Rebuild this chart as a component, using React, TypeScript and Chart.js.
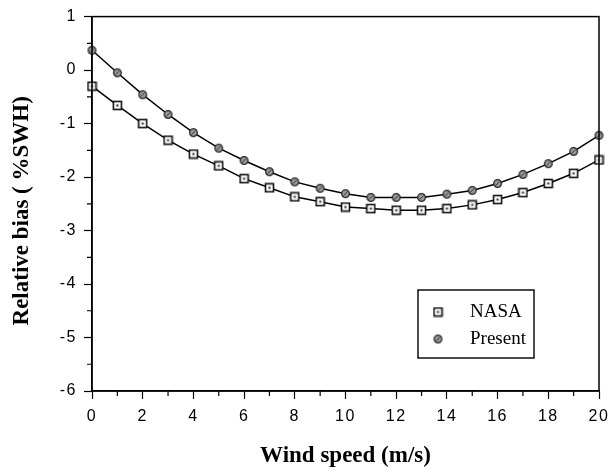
import React, { useEffect, useRef } from "react";
import { Chart, registerables } from "chart.js";

Chart.register(...registerables);

const windSpeed = [0, 1, 2, 3, 4, 5, 6, 7, 8, 9, 10, 11, 12, 13, 14, 15, 16, 17, 18, 19, 20];
const nasaBias = [-0.3, -0.66, -1.0, -1.31, -1.57, -1.79, -2.03, -2.2, -2.37, -2.46, -2.56, -2.59, -2.62, -2.62, -2.59, -2.52, -2.42, -2.29, -2.12, -1.93, -1.68];
const presentBias = [0.37, -0.05, -0.46, -0.83, -1.17, -1.46, -1.69, -1.9, -2.09, -2.21, -2.31, -2.38, -2.38, -2.38, -2.32, -2.25, -2.12, -1.95, -1.75, -1.52, -1.22];
const xTicks = [0, 2, 4, 6, 8, 10, 12, 14, 16, 18, 20];
const yTicks = [-6, -5, -4, -3, -2, -1, 0, 1];
const seriesNames = ["NASA", "Present"];
const xTitle = "Wind speed (m/s)";
const yTitle = "Relative bias ( %SWH)";

function makeSquare(): HTMLCanvasElement {
  const c = document.createElement("canvas");
  c.width = 11;
  c.height = 11;
  const g = c.getContext("2d")!;
  g.fillStyle = "#fff";
  g.fillRect(1, 1, 9, 9);
  g.strokeStyle = "#111";
  g.lineWidth = 1.6;
  g.strokeRect(1.5, 1.5, 8, 8);
  g.fillStyle = "#222";
  g.fillRect(4.5, 4.5, 2, 2);
  return c;
}

function makeDiamond(): HTMLCanvasElement {
  const c = document.createElement("canvas");
  c.width = 11;
  c.height = 11;
  const g = c.getContext("2d")!;
  g.beginPath();
  g.arc(5.5, 5.5, 3.8, 0, Math.PI * 2);
  g.fillStyle = "#9a9a9a";
  g.fill();
  g.strokeStyle = "#222";
  g.lineWidth = 1.3;
  g.stroke();
  g.beginPath();
  g.moveTo(3.4, 7.6);
  g.lineTo(7.6, 3.4);
  g.strokeStyle = "#333";
  g.lineWidth = 1;
  g.stroke();
  return c;
}

export default function App() {
  const ref = useRef<HTMLCanvasElement>(null);

  useEffect(() => {
    document.body.style.margin = "0";
    const sq = makeSquare();
    const dm = makeDiamond();

    const framePlugin = {
      id: "frame",
      beforeDraw(chart: any) {
        (chart.ctx as any).letterSpacing = "1.5px";
      },
      afterDraw(chart: any) {
        const { ctx, chartArea } = chart;
        const xs = chart.scales.x;
        const ys = chart.scales.y;
        ctx.save();
        (ctx as any).letterSpacing = "0px";
        ctx.strokeStyle = "#000";
        ctx.lineWidth = 1.5;
        ctx.strokeRect(chartArea.left, chartArea.top, chartArea.right - chartArea.left, chartArea.bottom - chartArea.top);
        // minor ticks
        ctx.lineWidth = 1.2;
        ctx.beginPath();
        for (let v = 1; v < 20; v += 2) {
          const px = xs.getPixelForValue(v);
          ctx.moveTo(px, chartArea.bottom);
          ctx.lineTo(px, chartArea.bottom + 5);
        }
        for (let v = -5.5; v < 1; v += 1) {
          const py = ys.getPixelForValue(v);
          ctx.moveTo(chartArea.left, py);
          ctx.lineTo(chartArea.left - 5, py);
        }
        ctx.stroke();

        // axis titles
        ctx.fillStyle = "#000";
        ctx.font = "bold 23px 'Liberation Serif'";
        ctx.textAlign = "center";
        ctx.textBaseline = "alphabetic";
        ctx.fillText(xTitle, (chartArea.left + chartArea.right) / 2, 462);
        ctx.save();
        ctx.translate(28, (chartArea.top + chartArea.bottom) / 2 + 7);
        ctx.rotate(-Math.PI / 2);
        ctx.fillText(yTitle, 0, 0);
        ctx.restore();

        // legend
        const bx = chartArea.right - 181;
        const by = chartArea.bottom - 101;
        const bw = 116;
        const bh = 68;
        ctx.fillStyle = "#fff";
        ctx.fillRect(bx, by, bw, bh);
        ctx.lineWidth = 1.5;
        ctx.strokeStyle = "#111";
        ctx.strokeRect(bx, by, bw, bh);
        const imgs = [sq, dm];
        ctx.font = "19px 'Liberation Serif'";
        ctx.fillStyle = "#000";
        ctx.textBaseline = "middle";
        ctx.textAlign = "left";
        seriesNames.forEach((name, i) => {
          const cy = by + 22 + i * 27;
          ctx.drawImage(imgs[i], bx + 20 - 5.5, cy - 5.5);
          ctx.fillText(name, bx + 52, cy);
        });
        ctx.restore();
      },
    };

    const chart = new Chart(ref.current!, {
      type: "line",
      data: {
        labels: windSpeed,
        datasets: [
          {
            label: seriesNames[0],
            data: windSpeed.map((x, i) => ({ x, y: nasaBias[i] })),
            borderColor: "#000",
            borderWidth: 1.5,
            pointStyle: sq as any,
            pointRadius: 5,
            tension: 0,
            clip: false as any,
          },
          {
            label: seriesNames[1],
            data: windSpeed.map((x, i) => ({ x, y: presentBias[i] })),
            borderColor: "#000",
            borderWidth: 1.5,
            pointStyle: dm as any,
            pointRadius: 5,
            tension: 0,
            clip: false as any,
          },
        ],
      },
      options: {
        responsive: false,
        animation: false,
        layout: { padding: { left: 0, right: 12, top: 15, bottom: 0 } },
        plugins: { legend: { display: false }, tooltip: { enabled: false } },
        scales: {
          x: {
            type: "linear",
            min: 0,
            max: 20,
            afterBuildTicks: (s: any) => {
              s.ticks = xTicks.map((v) => ({ value: v }));
            },
            afterFit: (s: any) => {
              s.height = 81;
              s.paddingRight = 0;
              s.paddingLeft = 0;
            },
            ticks: {
              font: { family: "'Liberation Sans'", size: 16 },
              color: "#000",
              padding: 8,
              maxRotation: 0,
            },
            grid: { drawOnChartArea: false, tickLength: 8, tickColor: "#000", tickWidth: 1.2 },
            border: { color: "#000", width: 1.5 },
          },
          y: {
            type: "linear",
            min: -6,
            max: 1,
            afterBuildTicks: (s: any) => {
              s.ticks = yTicks.map((v) => ({ value: v }));
            },
            afterFit: (s: any) => {
              s.width = 92;
            },
            ticks: {
              font: { family: "'Liberation Sans'", size: 16 },
              color: "#000",
              padding: 7,
            },
            grid: { drawOnChartArea: false, tickLength: 8, tickColor: "#000", tickWidth: 1.2 },
            border: { color: "#000", width: 1.5 },
          },
        },
      },
      plugins: [framePlugin],
    });
    return () => chart.destroy();
  }, []);

  return <canvas ref={ref} width={611} height={472} style={{ display: "block" }} />;
}
